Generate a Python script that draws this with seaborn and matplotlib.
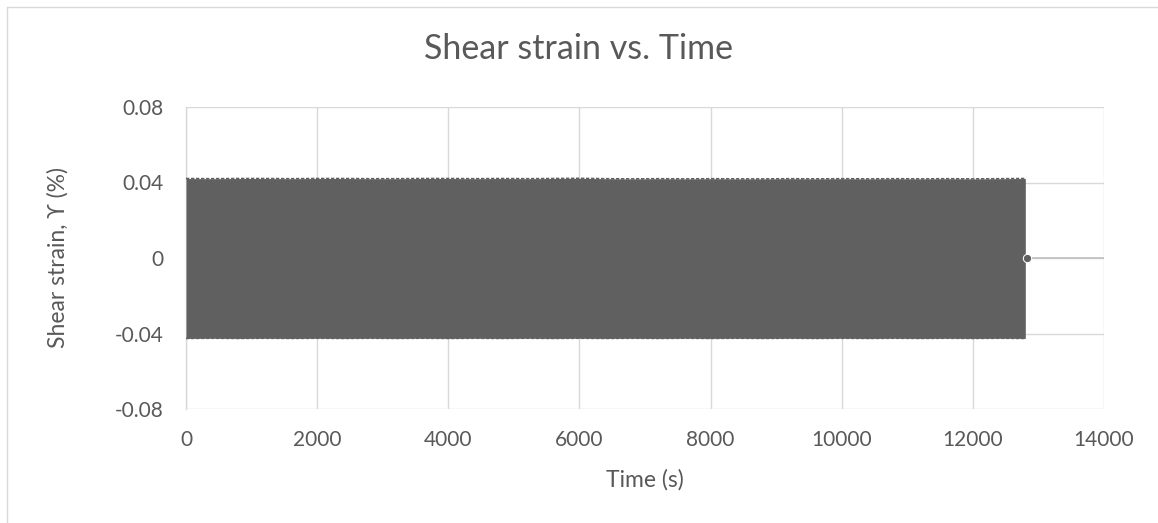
import numpy as np
import pandas as pd
import matplotlib
matplotlib.use("Agg")
import matplotlib.pyplot as plt
import seaborn as sns
from matplotlib.lines import Line2D

# Envelope of the dense oscillation
time_s = [0, 400, 800, 1200, 1600, 2000, 2400, 2800, 3200, 3600, 4000, 4400,
          4800, 5200, 5600, 6000, 6400, 6800, 7200, 7600, 8000, 8400, 8800,
          9200, 9600, 10000, 10400, 10800, 11200, 11600, 12000, 12400, 12800]
upper_peak = [0.0421, 0.0420, 0.0421, 0.0421, 0.0420, 0.0421, 0.0421, 0.0420,
              0.0420, 0.0421, 0.0421, 0.0420, 0.0421, 0.0420, 0.0421, 0.0422,
              0.0420, 0.0419, 0.0420, 0.0419, 0.0420, 0.0419, 0.0419, 0.0420,
              0.0419, 0.0420, 0.0419, 0.0420, 0.0419, 0.0420, 0.0419, 0.0420, 0.0421]
lower_peak = [-0.0426, -0.0425, -0.0426, -0.0425, -0.0426, -0.0425, -0.0426,
              -0.0425, -0.0426, -0.0425, -0.0426, -0.0425, -0.0426, -0.0425,
              -0.0426, -0.0425, -0.0426, -0.0425, -0.0426, -0.0425, -0.0426,
              -0.0425, -0.0426, -0.0425, -0.0426, -0.0425, -0.0426, -0.0425,
              -0.0426, -0.0425, -0.0426, -0.0425, -0.0426]
end_time = [12800, 12830]
end_strain = [0.0, 0.0]

x_ticks = [0, 2000, 4000, 6000, 8000, 10000, 12000, 14000]
y_ticks = [-0.08, -0.04, 0, 0.04, 0.08]
y_tick_labels = ["-0.08", "-0.04", "0", "0.04", "0.08"]

sns.set_theme(style="white")
FONT = ["Lato", "DejaVu Sans"]
plt.rcParams["font.family"] = FONT
TXT = "#595959"
SERIES = "#606060"

W, H = 1158, 523
fig = plt.figure(figsize=(W / 100, H / 100), dpi=100)
ax = fig.add_axes([186 / W, 1 - 409 / H, (1104 - 186) / W, (409 - 107) / H])

df = pd.DataFrame({"t": time_s, "up": upper_peak, "lo": lower_peak})
ax.fill_between(df["t"], df["lo"], df["up"], color=SERIES, linewidth=0, zorder=3)
sns.lineplot(data=df, x="t", y="up", ax=ax, color=SERIES, linewidth=1.2,
             linestyle=(0, (2, 1)), zorder=3)
sns.lineplot(data=df, x="t", y="lo", ax=ax, color=SERIES, linewidth=1.2,
             linestyle=(0, (2, 1)), zorder=3)
sns.lineplot(x=end_time, y=end_strain, ax=ax, color=SERIES, linewidth=2,
             marker="o", markersize=6, markevery=[1], zorder=4)

ax.set_xlim(0, 14000)
ax.set_ylim(-0.08, 0.08)
ax.set_xticks(x_ticks)
ax.set_xticklabels([str(v) for v in x_ticks])
ax.set_yticks(y_ticks)
ax.set_yticklabels(y_tick_labels)
ax.tick_params(axis="both", length=0, colors=TXT, labelsize=15)
ax.tick_params(axis="x", pad=15)
ax.tick_params(axis="y", pad=16)
ax.grid(True, color="#d9d9d9", linewidth=1)
ax.axhline(0, color="#bfbfbf", linewidth=1.2, zorder=2)
for s in ["top", "right", "bottom"]:
    ax.spines[s].set_visible(False)
ax.spines["left"].set_color("#d9d9d9")
ax.spines["left"].set_linewidth(1)

fig.text(0.5, 1 - 49 / H, "Shear strain vs. Time", fontsize=24.5, color=TXT,
         ha="center", va="center")
ax.set_xlabel("Time (s)", fontsize=16.5, color=TXT, va="center")
ax.xaxis.set_label_coords(0.5, (409 - 480) / (409 - 107))
ax.set_ylabel("Shear strain, ϒ (%)", fontsize=16.5, color=TXT, va="center",
              fontfamily=FONT)
ax.yaxis.set_label_coords((58 - 186) / (1104 - 186), 0.5)
if ax.legend_:
    ax.legend_.remove()

# chart border
fig.add_artist(Line2D([7 / W, 1], [1 - 7 / H, 1 - 7 / H], color="#d9d9d9", lw=1))
fig.add_artist(Line2D([7 / W, 7 / W], [0, 1 - 7 / H], color="#d9d9d9", lw=1))

fig.savefig("out.png", dpi=100)
